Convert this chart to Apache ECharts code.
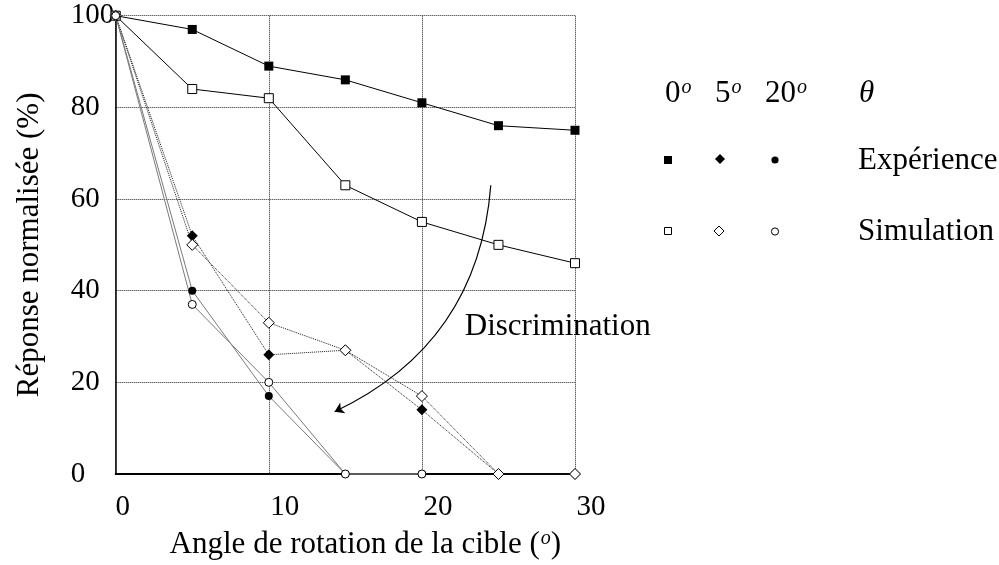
<!DOCTYPE html>
<html>
<head>
<meta charset="utf-8">
<script src="https://cdn.jsdelivr.net/npm/echarts@6/dist/echarts.min.js"></script>
<style>
  html, body { margin: 0; padding: 0; background: #fff; }
  #chart { width: 999px; height: 565px; }
</style>
</head>
<body>
<div id="chart"></div>
<script>
// Target rotation angles (degrees) and normalised response (%)
const angles = [0, 5, 10, 15, 20, 25, 30];

// theta = 0 deg
const exp0 = [100, 97, 89, 86, 81, 76, 75];
const sim0 = [100, 84, 82, 63, 55, 50, 46];
// theta = 5 deg
const exp5 = [100, 52, 26, 27, 14, 0, 0];
const sim5 = [100, 50, 33, 27, 17, 0, 0];
// theta = 20 deg
const exp20 = [100, 40, 17, 0, 0];
const sim20 = [100, 37, 20, 0, 0];

// annotation: curved arrow and its caption, in data coordinates
const arrowCoords = [[24.5, 63], [14.3, 13.6]];
const noteAt = [22.8, 32];
const noteText = 'Discrimination';

const FONT = 'Liberation Serif';
const FS = 29;   // tick labels
const FT = 31;   // titles, legend, caption

function pairs(ys) { return ys.map((v, i) => [angles[i], v]); }

function lineSeries(name, ys, symbol, size, filled, line) {
  return {
    name: name,
    type: 'line',
    data: pairs(ys),
    symbol: symbol,
    symbolSize: size,
    showAllSymbol: true,
    clip: false,
    itemStyle: filled
      ? { color: '#000', borderColor: '#000', borderWidth: 0 }
      : { color: '#fff', borderColor: '#000', borderWidth: 1 },
    lineStyle: line,
    emphasis: { disabled: true },
    animation: false
  };
}

const solidBlack = { color: '#000', width: 1, type: 'solid' };
const dotted5 = { color: '#1a1a1a', width: 1, type: 'dotted' };
const gray20 = { color: '#7a7a7a', width: 1, type: 'solid' };

const chart = echarts.init(document.getElementById('chart'));

const legendText = { fontFamily: FONT, fontSize: FT, fill: '#000' };
const supStyle = { fontFamily: FONT, fontSize: 20, fontStyle: 'italic', verticalAlign: 'top', padding: [0, 0, 0, 1] };

// legend block on the right: column headers, marker rows, row names
const legendGraphics = [
  { type: 'text', left: 665, top: 78, style: { text: '0{s|o}', rich: { s: supStyle }, ...legendText } },
  { type: 'text', left: 715, top: 78, style: { text: '5{s|o}', rich: { s: supStyle }, ...legendText } },
  { type: 'text', left: 765, top: 78, style: { text: '20{s|o}', rich: { s: supStyle }, ...legendText } },
  { type: 'text', left: 859, top: 78, style: { text: 'θ', fontStyle: 'italic', ...legendText } },
  { type: 'rect', shape: { x: 664, y: 156, width: 8, height: 8 }, style: { fill: '#000' } },
  { type: 'polygon', shape: { points: [[720, 154], [725, 159], [720, 164], [715, 159]] }, style: { fill: '#000' } },
  { type: 'circle', shape: { cx: 775, cy: 160, r: 3.6 }, style: { fill: '#000' } },
  { type: 'text', left: 858, top: 145, style: { text: 'Expérience', ...legendText } },
  { type: 'rect', shape: { x: 664.5, y: 227.5, width: 7, height: 7 }, style: { fill: '#fff', stroke: '#000', lineWidth: 1 } },
  { type: 'polygon', shape: { points: [[719, 226], [724, 231], [719, 236], [714, 231]] }, style: { fill: '#fff', stroke: '#000', lineWidth: 1 } },
  { type: 'circle', shape: { cx: 775, cy: 231.5, r: 3.6 }, style: { fill: '#fff', stroke: '#000', lineWidth: 1 } },
  { type: 'text', left: 858, top: 216, style: { text: 'Simulation', ...legendText } }
];

chart.setOption({
  animation: false,
  backgroundColor: '#fff',
  grid: { left: 115.7, right: 424, top: 15.7, bottom: 89.3 },
  xAxis: {
    type: 'value',
    min: 0, max: 30, interval: 10,
    name: 'Angle de rotation de la cible ({s|o})',
    nameLocation: 'middle',
    nameGap: 55,
    nameTextStyle: {
      fontFamily: FONT, fontSize: FT, color: '#000',
      padding: [0, 0, 0, 40],
      rich: { s: supStyle }
    },
    axisLine: { show: true, onZero: false, lineStyle: { color: '#000', width: 2 } },
    axisTick: { show: false },
    axisLabel: {
      margin: 19,
      color: '#000',
      fontFamily: FONT, fontSize: FS,
      formatter: v => (v === 0 ? '{z|0}' : '{n|' + v + '}'),
      rich: {
        z: { fontFamily: FONT, fontSize: FS, color: '#000', padding: [0, 0, 0, 14] },
        n: { fontFamily: FONT, fontSize: FS, color: '#000', padding: [0, 0, 0, 32] }
      }
    },
    splitLine: { show: true, lineStyle: { color: '#222', width: 1, type: 'dotted' } }
  },
  yAxis: {
    type: 'value',
    min: 0, max: 100, interval: 20,
    name: 'Réponse normalisée (%)',
    nameLocation: 'middle',
    nameGap: 70,
    nameTextStyle: { fontFamily: FONT, fontSize: FT, color: '#000' },
    axisLine: { show: true, onZero: false, lineStyle: { color: '#000', width: 1.5 } },
    axisTick: { show: false },
    axisLabel: { margin: 45, align: 'left', color: '#000', fontFamily: FONT, fontSize: FS },
    splitLine: { show: true, lineStyle: { color: '#222', width: 1, type: 'dotted' } }
  },
  series: [
    lineSeries('Expérience 0°', exp0, 'rect', 9, true, solidBlack),
    lineSeries('Simulation 0°', sim0, 'rect', 9, false, solidBlack),
    lineSeries('Expérience 5°', exp5, 'diamond', 11, true, dotted5),
    lineSeries('Simulation 5°', sim5, 'diamond', 11, false, dotted5),
    lineSeries('Expérience 20°', exp20, 'circle', 8, true, gray20),
    lineSeries('Simulation 20°', sim20, 'circle', 8, false, gray20),
    {
      type: 'lines',
      coordinateSystem: 'cartesian2d',
      silent: true,
      z: 1,
      symbol: ['none', 'arrow'],
      symbolSize: [0, 9],
      lineStyle: { color: '#000', width: 1.2, curveness: 0.29, opacity: 1 },
      data: [{ coords: arrowCoords }]
    }
  ],
  graphic: legendGraphics
});

// caption placed at its data position through the grid's own scales
const notePx = chart.convertToPixel({ gridIndex: 0 }, noteAt);
chart.setOption({
  graphic: legendGraphics.concat([{
    type: 'text',
    x: notePx[0],
    y: notePx[1],
    z: 10,
    style: { text: noteText, verticalAlign: 'middle', align: 'left', ...legendText }
  }])
});
</script>
</body>
</html>
